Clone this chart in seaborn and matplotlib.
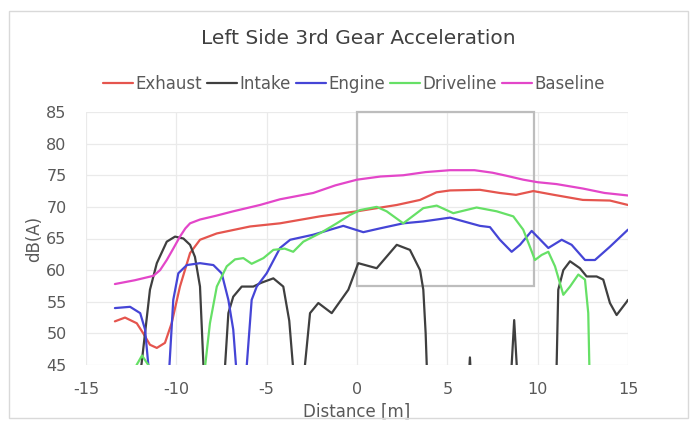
import numpy as np
import pandas as pd
import matplotlib
matplotlib.use("Agg")
import matplotlib.pyplot as plt
from matplotlib.patches import Rectangle
from matplotlib.lines import Line2D
import seaborn as sns

# ---------------- data ----------------
baseline_x = [-13.4, -12.3, -11.27, -10.9, -10.53, -10.15, -9.8, -9.5, -9.24, -8.69, -7.8, -6.85, -5.37,
              -4.26, -2.42, -1.2, 0.0, 1.3, 2.56, 3.8, 5.15, 6.5, 7.5, 8.3, 9.2, 10.0, 11.05, 12.5,
              13.7, 15.0]
baseline_y = [57.8, 58.4, 59.1, 60.0, 61.6, 63.5, 65.3, 66.6, 67.4, 68.0, 68.6, 69.3, 70.3,
              71.2, 72.2, 73.4, 74.3, 74.8, 75.0, 75.5, 75.8, 75.8, 75.4, 74.9, 74.3, 73.9, 73.6, 72.9,
              72.2, 71.8]

exhaust_x = [-13.4, -12.84, -12.19, -11.83, -11.46, -11.08, -10.63, -10.26, -9.8, -9.24, -8.69, -7.76,
             -5.92, -4.26, -2.05, 0.0, 2.2, 3.49, 4.4, 5.15, 6.8, 7.9, 8.8, 9.76, 10.9, 12.5, 14.0, 15.0]
exhaust_y = [51.9, 52.5, 51.6, 50.0, 48.2, 47.7, 48.5, 51.6, 57.4, 62.7, 64.8, 65.8,
             66.9, 67.4, 68.5, 69.3, 70.3, 71.1, 72.3, 72.6, 72.7, 72.2, 71.9, 72.5, 71.9, 71.1, 71.0, 70.3]

engine_x = [-13.4, -12.56, -12.0, -11.73, -11.55, -11.4, -10.55, -10.38, -10.17, -9.89, -9.42, -8.69,
            -7.95, -7.49, -7.12, -6.85, -6.7, -6.5, -6.3, -6.1, -5.83, -5.55, -5.0, -4.26, -3.7, -2.42,
            -0.76, 0.35, 1.27, 2.56, 3.67, 5.15, 6.8, 7.36, 7.91, 8.56, 9.02, 9.67, 10.59, 11.33, 11.88,
            12.62, 13.17, 14.0, 15.0]
engine_y = [54.0, 54.2, 53.2, 50.6, 45.0, 38.0, 38.0, 45.0, 55.3, 59.5, 60.8, 61.1,
            60.8, 59.5, 55.3, 50.6, 45.0, 38.0, 38.0, 45.0, 55.3, 57.4, 59.5, 63.5, 64.8, 65.6,
            67.0, 66.0, 66.6, 67.4, 67.7, 68.3, 67.0, 66.8, 64.8, 62.9, 64.0, 66.2, 63.5, 64.8, 64.0,
            61.6, 61.6, 63.7, 66.4]

driveline_x = [-12.5, -12.2, -11.9, -11.55, -11.3, -8.7, -8.4, -8.14, -7.76, -7.21, -6.75, -6.29, -5.83,
               -5.18, -4.63, -4.0, -3.53, -2.97, -2.0, -1.12, -0.4, 0.17, 1.09, 1.64, 2.56, 3.67, 4.41,
               5.33, 6.62, 7.73, 8.65, 9.2, 9.57, 9.85, 10.22, 10.59, 10.96, 11.42, 11.79, 12.25, 12.62,
               12.8, 12.86, 13.0]
driveline_y = [38.0, 45.0, 46.5, 45.0, 38.0, 38.0, 45.0, 51.6, 57.4, 60.6, 61.7, 61.9, 61.0,
               61.9, 63.2, 63.4, 62.9, 64.5, 65.9, 67.4, 68.7, 69.5, 70.0, 69.3, 67.4, 69.8, 70.2,
               69.0, 69.9, 69.3, 68.5, 66.4, 63.7, 61.6, 62.4, 62.9, 60.6, 56.1, 57.4, 59.3, 58.5,
               53.2, 45.0, 38.0]

intake_x = [-12.3, -11.92, -11.46, -11.08, -10.53, -10.07, -9.61, -9.24, -8.97, -8.69, -8.5, -8.3, -7.5,
            -7.3, -7.12, -6.85, -6.38, -5.74, -5.3, -4.63, -4.08, -3.75, -3.55, -3.3, -3.1, -2.88, -2.6,
            -2.14, -1.4, -0.48, 0.07, 1.09, 2.2, 2.93, 3.49, 3.67, 3.8, 3.86, 4.0, 6.1, 6.25, 6.4, 8.4,
            8.56, 8.7, 8.84, 9.0, 10.9, 11.05, 11.14, 11.42, 11.79, 12.34, 12.71, 13.26, 13.63, 14.0,
            14.37, 14.93, 15.0]
intake_y = [38.0, 45.3, 56.9, 61.1, 64.5, 65.3, 65.0, 64.0, 62.1, 57.4, 45.0, 38.0, 38.0,
            45.0, 53.2, 55.8, 57.4, 57.4, 58.0, 58.7, 57.4, 52.0, 45.0, 38.0, 38.0, 45.0, 53.2,
            54.8, 53.2, 56.9, 61.1, 60.3, 64.0, 63.2, 60.0, 56.9, 50.0, 45.0, 38.0, 38.0, 46.2, 38.0, 38.0,
            45.0, 52.1, 45.0, 38.0, 38.0, 45.0, 56.9, 60.0, 61.4, 60.3, 59.0, 59.0, 58.5, 54.8,
            52.9, 55.0, 55.3]

series_names = ["Exhaust", "Intake", "Engine", "Driveline", "Baseline"]
series_colors = ["#E5554E", "#3F3F3F", "#4545D6", "#66E066", "#E346C9"]
x_ticks = [-15, -10, -5, 0, 5, 10, 15]
y_ticks = [45, 50, 55, 60, 65, 70, 75, 80, 85]
highlight = (0.0, 57.5, 9.8, 85.0)  # x0, y0, x1, y1 of the grey box

# ---------------- build table ----------------
data = {
    "Exhaust": (exhaust_x, exhaust_y),
    "Intake": (intake_x, intake_y),
    "Engine": (engine_x, engine_y),
    "Driveline": (driveline_x, driveline_y),
    "Baseline": (baseline_x, baseline_y),
}
frames = []
for name in series_names:
    xs, ys = data[name]
    frames.append(pd.DataFrame({"Distance": xs, "dB": ys, "Series": name}))
df = pd.concat(frames, ignore_index=True)

# ---------------- plot ----------------
sns.set_theme(style="whitegrid")
plt.rcParams["font.family"] = ["DejaVu Sans"]
plt.rcParams["axes.unicode_minus"] = False

fig = plt.figure(figsize=(6.93, 4.22), dpi=100)
ax = fig.add_axes([86 / 693, 1 - 365 / 422, (628 - 86) / 693, (365 - 112) / 422])

palette = dict(zip(series_names, series_colors))
sns.lineplot(data=df, x="Distance", y="dB", hue="Series", hue_order=series_names,
             palette=palette, estimator=None, sort=False, units="Series",
             linewidth=1.6, ax=ax, legend=False)

ax.set_xlim(-15, 15)
ax.set_ylim(45, 85)
ax.set_xticks(x_ticks)
ax.set_yticks(y_ticks)
ax.tick_params(axis="x", length=0, labelsize=11.5, colors="#595959", pad=12)
ax.tick_params(axis="y", length=0, labelsize=11.5, colors="#595959", pad=14)
ax.grid(True, color="#EAEAEA", linewidth=0.9)
for s in ax.spines.values():
    s.set_visible(False)
ax.set_facecolor("white")

x0, y0, x1, y1 = highlight
ax.add_patch(Rectangle((x0, y0), x1 - x0, y1 - y0, fill=False, edgecolor="#BDBDBD",
                       linewidth=1.6, zorder=1, clip_on=False))

ax.set_xlabel("Distance [m]", fontsize=12, color="#595959")
ax.set_ylabel("dB(A)", fontsize=12, color="#595959")
ax.xaxis.set_label_coords(0.5, -(403 - 365) / 253)
ax.yaxis.set_label_coords(-(86 - 43) / 542, 0.5)

fig.text(358 / 693, 1 - 39 / 422, "Left Side 3rd Gear Acceleration", ha="center", va="center",
         fontsize=14.5, color="#404040")

handles = [Line2D([0], [0], color=c, lw=1.6) for c in series_colors]
fig.legend(handles, series_names, loc="center", bbox_to_anchor=(354 / 693, 1 - 84 / 422), ncol=5,
           frameon=False, fontsize=12, handlelength=1.8, handletextpad=0.15, columnspacing=0.3,
           labelcolor="#595959", borderpad=0.2)

fig.patches.append(Rectangle((9 / 693, 1 - 418 / 422), (688 - 9) / 693, (418 - 11) / 422,
                             transform=fig.transFigure, fill=False, edgecolor="#D9D9D9",
                             linewidth=1.0))

fig.savefig("out.png", dpi=100)
